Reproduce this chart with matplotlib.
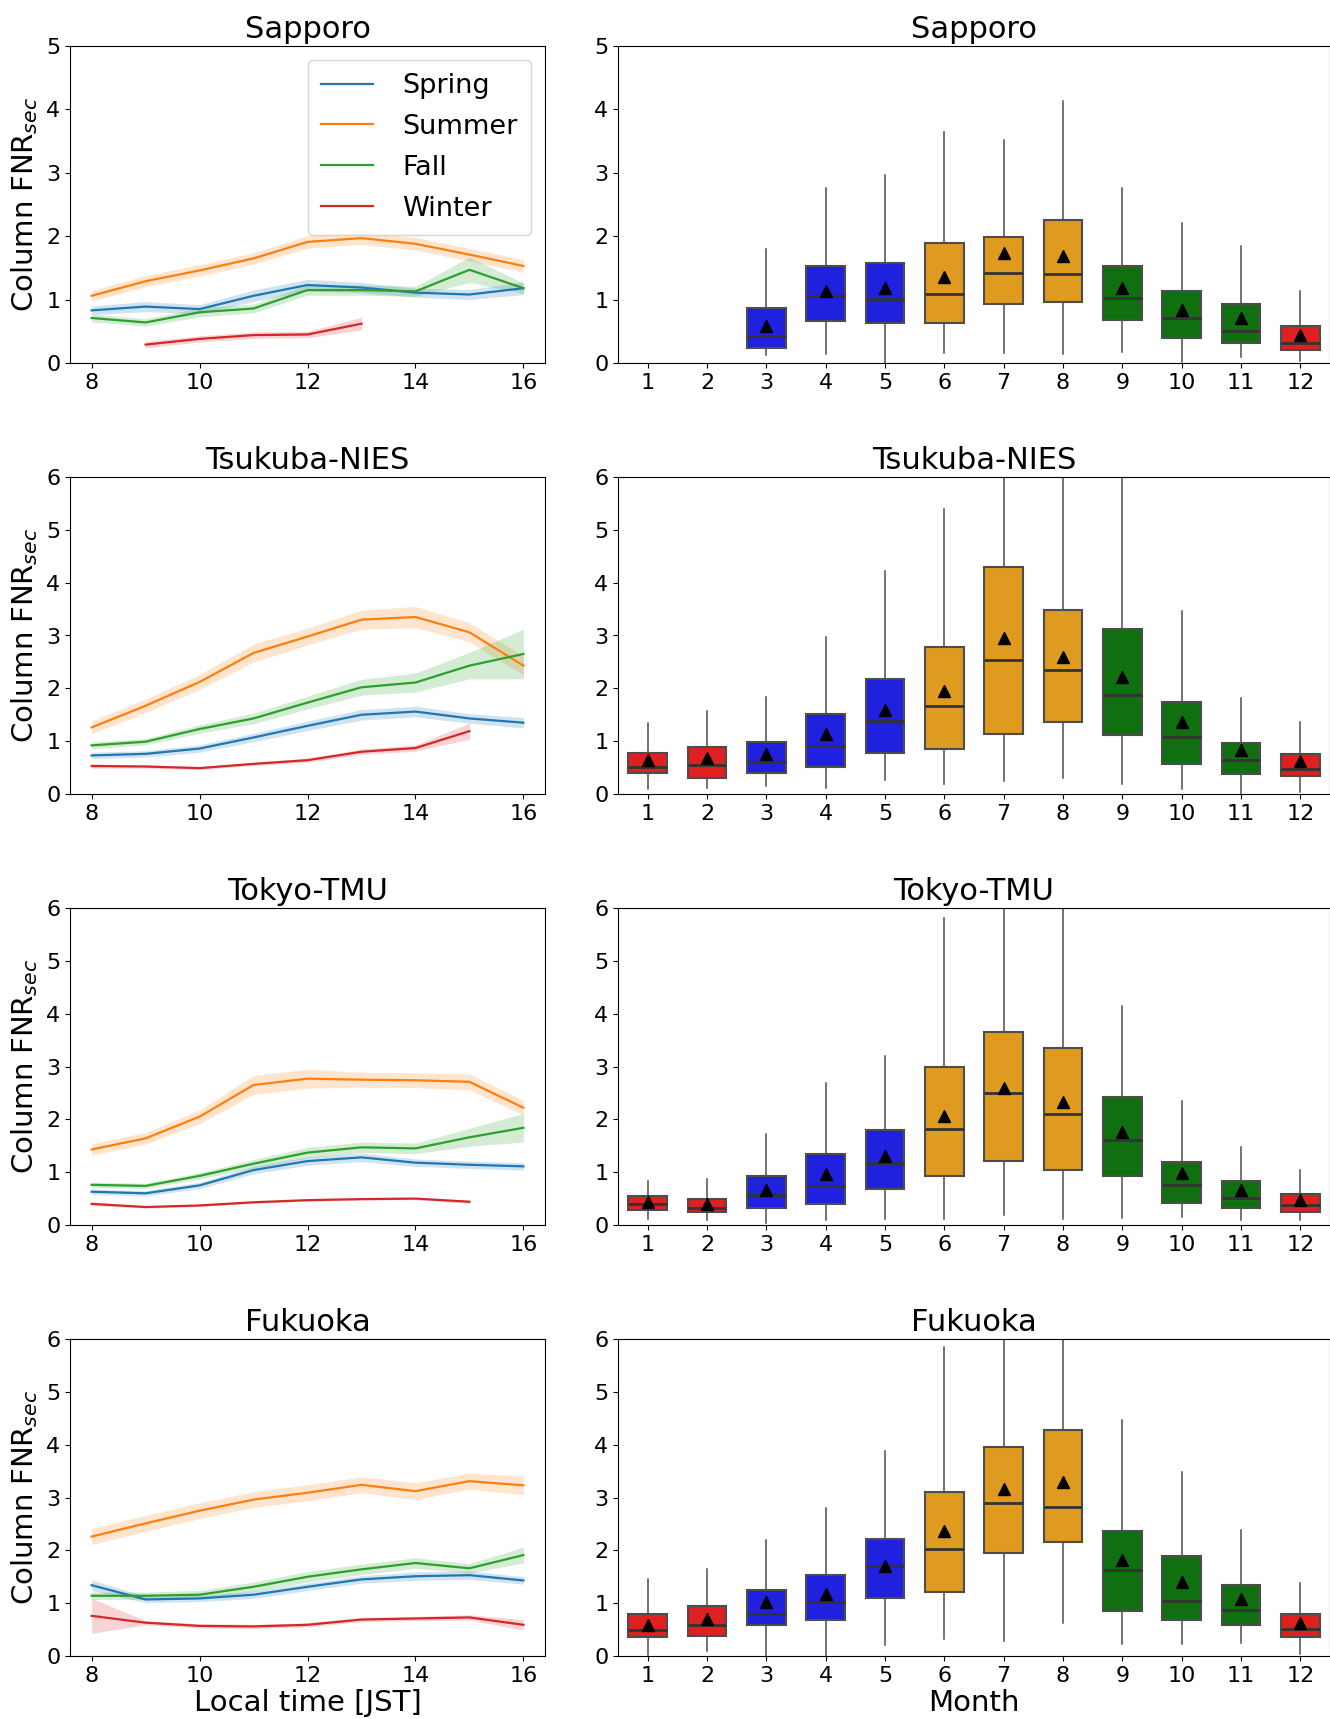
import numpy as np
import matplotlib
matplotlib.use("Agg")
import matplotlib.pyplot as plt

hours = [8, 9, 10, 11, 12, 13, 14, 15, 16]
months = list(range(1, 13))
seasons = ["Spring", "Summer", "Fall", "Winter"]
season_colors = {"Spring": "tab:blue", "Summer": "tab:orange", "Fall": "tab:green", "Winter": "tab:red"}
stations = ["Sapporo", "Tsukuba-NIES", "Tokyo-TMU", "Fukuoka"]
ytops = [5, 6, 6, 6]

# diurnal mean FNR per season (None = no data) and half-width of the band
sapporo_mean = {
    "Spring": [0.83, 0.89, 0.85, 1.06, 1.23, 1.19, 1.11, 1.08, 1.18],
    "Summer": [1.06, 1.29, 1.46, 1.65, 1.91, 1.97, 1.88, 1.71, 1.53],
    "Fall":   [0.71, 0.64, 0.80, 0.86, 1.15, 1.15, 1.13, 1.47, 1.18],
    "Winter": [None, 0.29, 0.38, 0.44, 0.45, 0.62, None, None, None],
}
sapporo_err = {
    "Spring": [0.07, 0.08, 0.07, 0.09, 0.09, 0.08, 0.07, 0.08, 0.1],
    "Summer": [0.08, 0.09, 0.09, 0.09, 0.1, 0.1, 0.1, 0.1, 0.1],
    "Fall":   [0.06, 0.06, 0.07, 0.07, 0.08, 0.08, 0.08, 0.2, 0.08],
    "Winter": [None, 0.05, 0.05, 0.05, 0.05, 0.1, None, None, None],
}
tsukuba_mean = {
    "Spring": [0.73, 0.76, 0.86, 1.07, 1.29, 1.50, 1.56, 1.43, 1.35],
    "Summer": [1.26, 1.67, 2.12, 2.67, 2.98, 3.30, 3.35, 3.06, 2.43],
    "Fall":   [0.92, 0.99, 1.23, 1.43, 1.73, 2.02, 2.11, 2.43, 2.65],
    "Winter": [0.53, 0.52, 0.49, 0.57, 0.64, 0.80, 0.87, 1.19, None],
}
tsukuba_err = {
    "Spring": [0.06, 0.06, 0.07, 0.08, 0.09, 0.1, 0.1, 0.09, 0.1],
    "Summer": [0.12, 0.13, 0.14, 0.17, 0.16, 0.18, 0.2, 0.18, 0.18],
    "Fall":   [0.06, 0.06, 0.08, 0.1, 0.12, 0.15, 0.18, 0.25, 0.47],
    "Winter": [0.04, 0.03, 0.03, 0.03, 0.04, 0.05, 0.06, 0.15, None],
}
tokyo_mean = {
    "Spring": [0.63, 0.60, 0.75, 1.04, 1.21, 1.28, 1.18, 1.14, 1.11],
    "Summer": [1.43, 1.64, 2.05, 2.65, 2.77, 2.75, 2.74, 2.71, 2.22],
    "Fall":   [0.76, 0.74, 0.93, 1.16, 1.37, 1.47, 1.45, 1.66, 1.84],
    "Winter": [0.40, 0.34, 0.37, 0.43, 0.47, 0.49, 0.50, 0.44, None],
}
tokyo_err = {
    "Spring": [0.05, 0.05, 0.06, 0.07, 0.08, 0.08, 0.07, 0.07, 0.07],
    "Summer": [0.11, 0.11, 0.13, 0.18, 0.18, 0.14, 0.14, 0.15, 0.14],
    "Fall":   [0.05, 0.05, 0.06, 0.08, 0.1, 0.1, 0.1, 0.17, 0.27],
    "Winter": [0.03, 0.02, 0.02, 0.02, 0.02, 0.02, 0.02, 0.03, None],
}
fukuoka_mean = {
    "Spring": [1.34, 1.07, 1.09, 1.16, 1.31, 1.45, 1.51, 1.53, 1.43],
    "Summer": [2.26, 2.51, 2.75, 2.96, 3.09, 3.24, 3.12, 3.31, 3.23],
    "Fall":   [1.14, 1.14, 1.16, 1.31, 1.50, 1.64, 1.76, 1.66, 1.91],
    "Winter": [0.76, 0.63, 0.57, 0.56, 0.59, 0.69, 0.71, 0.73, 0.59],
}
fukuoka_err = {
    "Spring": [0.1, 0.06, 0.06, 0.07, 0.07, 0.07, 0.08, 0.08, 0.07],
    "Summer": [0.15, 0.15, 0.15, 0.15, 0.15, 0.15, 0.16, 0.15, 0.18],
    "Fall":   [0.07, 0.07, 0.08, 0.09, 0.1, 0.1, 0.1, 0.09, 0.15],
    "Winter": [0.33, 0.04, 0.04, 0.04, 0.04, 0.04, 0.04, 0.05, 0.1],
}
line_means = [sapporo_mean, tsukuba_mean, tokyo_mean, fukuoka_mean]
line_errs = [sapporo_err, tsukuba_err, tokyo_err, fukuoka_err]

# monthly box statistics, months 1..12 (None = no data)
sapporo_q1 =   [None, None, 0.24, 0.67, 0.63, 0.63, 0.93, 0.97, 0.68, 0.39, 0.31, 0.21]
sapporo_med =  [None, None, 0.43, 1.05, 1.01, 1.09, 1.42, 1.40, 1.02, 0.71, 0.50, 0.32]
sapporo_q3 =   [None, None, 0.87, 1.53, 1.57, 1.89, 1.98, 2.26, 1.53, 1.13, 0.93, 0.58]
sapporo_avg =  [None, None, 0.59, 1.14, 1.18, 1.35, 1.74, 1.68, 1.19, 0.84, 0.71, 0.44]
sapporo_lo =   [None, None, 0.12, 0.14, 0.00, 0.15, 0.15, 0.14, 0.17, 0.01, 0.10, 0.03]
sapporo_hi =   [None, None, 1.80, 2.76, 2.97, 3.65, 3.51, 4.14, 2.76, 2.21, 1.84, 1.14]

tsukuba_q1 =   [0.39, 0.31, 0.39, 0.52, 0.78, 0.85, 1.13, 1.37, 1.11, 0.57, 0.38, 0.34]
tsukuba_med =  [0.51, 0.55, 0.60, 0.90, 1.39, 1.66, 2.54, 2.34, 1.87, 1.07, 0.65, 0.47]
tsukuba_q3 =   [0.77, 0.89, 0.99, 1.51, 2.17, 2.79, 4.30, 3.48, 3.13, 1.74, 0.97, 0.76]
tsukuba_avg =  [0.65, 0.69, 0.76, 1.13, 1.59, 1.95, 2.95, 2.60, 2.21, 1.37, 0.83, 0.63]
tsukuba_lo =   [0.09, 0.11, 0.15, 0.12, 0.26, 0.18, 0.25, 0.31, 0.18, 0.09, 0.00, 0.03]
tsukuba_hi =   [1.35, 1.57, 1.83, 2.98, 4.23, 5.39, 7.20, 6.80, 6.60, 3.46, 1.81, 1.37]

tokyo_q1 =     [0.28, 0.25, 0.33, 0.40, 0.69, 0.93, 1.21, 1.05, 0.92, 0.42, 0.33, 0.25]
tokyo_med =    [0.39, 0.32, 0.57, 0.74, 1.17, 1.81, 2.50, 2.11, 1.61, 0.76, 0.52, 0.37]
tokyo_q3 =     [0.55, 0.49, 0.92, 1.34, 1.79, 2.99, 3.66, 3.35, 2.42, 1.20, 0.84, 0.58]
tokyo_avg =    [0.44, 0.40, 0.66, 0.96, 1.31, 2.07, 2.59, 2.32, 1.76, 0.99, 0.66, 0.47]
tokyo_lo =     [0.11, 0.09, 0.04, 0.09, 0.11, 0.11, 0.19, 0.11, 0.13, 0.15, 0.09, 0.09]
tokyo_hi =     [0.83, 0.87, 1.73, 2.68, 3.20, 5.81, 6.90, 6.50, 4.14, 2.35, 1.48, 1.05]

fukuoka_q1 =   [0.36, 0.37, 0.59, 0.68, 1.09, 1.21, 1.95, 2.15, 0.86, 0.69, 0.59, 0.36]
fukuoka_med =  [0.49, 0.59, 0.79, 1.02, 1.70, 2.02, 2.90, 2.82, 1.62, 1.05, 0.88, 0.51]
fukuoka_q3 =   [0.79, 0.94, 1.25, 1.54, 2.21, 3.10, 3.95, 4.27, 2.36, 1.90, 1.35, 0.79]
fukuoka_avg =  [0.59, 0.70, 1.02, 1.17, 1.71, 2.36, 3.17, 3.30, 1.81, 1.40, 1.08, 0.62]
fukuoka_lo =   [0.01, 0.09, 0.00, 0.00, 0.20, 0.33, 0.28, 0.63, 0.22, 0.22, 0.25, 0.04]
fukuoka_hi =   [1.45, 1.65, 2.19, 2.81, 3.88, 5.84, 7.10, 7.40, 4.47, 3.49, 2.39, 1.39]

box_q1 = [sapporo_q1, tsukuba_q1, tokyo_q1, fukuoka_q1]
box_med = [sapporo_med, tsukuba_med, tokyo_med, fukuoka_med]
box_q3 = [sapporo_q3, tsukuba_q3, tokyo_q3, fukuoka_q3]
box_avg = [sapporo_avg, tsukuba_avg, tokyo_avg, fukuoka_avg]
box_lo = [sapporo_lo, tsukuba_lo, tokyo_lo, fukuoka_lo]
box_hi = [sapporo_hi, tsukuba_hi, tokyo_hi, fukuoka_hi]

# month -> season fill (seaborn-style desaturated red/blue/orange/green)
month_colors = ["#df2020", "#df2020", "#2020df", "#2020df", "#2020df",
                "#df9a20", "#df9a20", "#df9a20", "#107010", "#107010", "#107010", "#df2020"]

W, H = 1330, 1719
fig = plt.figure(figsize=(W / 100, H / 100), dpi=100)

row_tops = [46, 477, 908, 1339]
ax_h = 317

for i, name in enumerate(stations):
    y0 = (H - row_tops[i] - ax_h) / H
    axl = fig.add_axes([70 / W, y0, 475 / W, ax_h / H])
    axr = fig.add_axes([618 / W, y0, 712 / W, ax_h / H])

    # left: diurnal cycle by season with shaded band
    for s in seasons:
        m = np.array([np.nan if v is None else v for v in line_means[i][s]])
        e = np.array([np.nan if v is None else v for v in line_errs[i][s]])
        ok = ~np.isnan(m)
        x = np.array(hours)[ok]
        axl.plot(x, m[ok], color=season_colors[s], lw=1.6, label=s)
        axl.fill_between(x, m[ok] - e[ok], m[ok] + e[ok], color=season_colors[s], alpha=0.2, lw=0)
    axl.set_xlim(7.6, 16.4)
    axl.set_ylim(0, ytops[i])
    axl.set_xticks([8, 10, 12, 14, 16])
    axl.set_yticks(range(0, ytops[i] + 1))
    axl.set_title(name, fontsize=22, pad=6)
    axl.set_ylabel("Column FNR$_{sec}$", fontsize=21, labelpad=4)
    axl.tick_params(labelsize=16)
    if i == 0:
        axl.legend(loc="upper right", fontsize=19.5, handlelength=1.9, handletextpad=1.1,
                   labelspacing=0.55, borderpad=0.5)
    if i == 3:
        axl.set_xlabel("Local time [JST]", fontsize=21, labelpad=2)

    # right: monthly boxes
    stats, pos, cols = [], [], []
    for k, mo in enumerate(months):
        if box_med[i][k] is None:
            continue
        stats.append(dict(med=box_med[i][k], q1=box_q1[i][k], q3=box_q3[i][k],
                          mean=box_avg[i][k], whislo=box_lo[i][k], whishi=box_hi[i][k], fliers=[]))
        pos.append(mo)
        cols.append(month_colors[k])
    bp = axr.bxp(stats, positions=pos, widths=0.65, patch_artist=True, showmeans=True,
                 showcaps=False, showfliers=False,
                 boxprops=dict(edgecolor="#4d4d4d", linewidth=1.5),
                 medianprops=dict(color="#333333", linewidth=2),
                 whiskerprops=dict(color="#4d4d4d", linewidth=1.1),
                 meanprops=dict(marker="^", markerfacecolor="black", markeredgecolor="black", markersize=8))
    for patch, c in zip(bp["boxes"], cols):
        patch.set_facecolor(c)
    axr.set_xlim(0.5, 12.5)
    axr.set_ylim(0, ytops[i])
    axr.set_xticks(months)
    axr.set_xticklabels([str(m) for m in months])
    axr.set_yticks(range(0, ytops[i] + 1))
    axr.set_title(name, fontsize=22, pad=6)
    axr.tick_params(labelsize=16)
    if i == 3:
        axr.set_xlabel("Month", fontsize=21, labelpad=2)

fig.savefig("out.png", dpi=100)
